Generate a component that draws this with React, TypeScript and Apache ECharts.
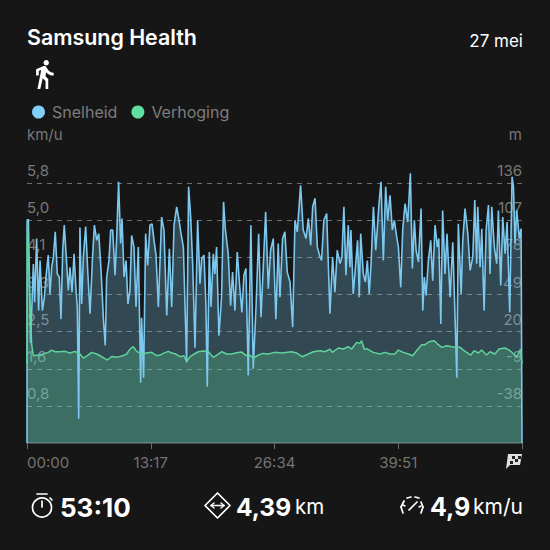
import React, { useEffect, useRef } from "react";
import * as echarts from "echarts";

const speedLabels = ["0,8", "1,6", "2,5", "3,3", "4,1", "5,0", "5,8"];
const elevationTicks = [-38, -9, 20, 49, 78, 107, 136];
const timeLabels = ["00:00", "13:17", "26:34", "39:51", ""];

const speedSeconds = [0,1,9,23,41,49,62,75,84,99,112,122,137,148,159,170,182,195,208,219,230,240,253,266,277,290,303,316,324,333,341,352,363,378,391,406,421,434,449,462,477,492,504,513,528,539,552,567,577,590,603,612,625,638,650,663,674,689,702,717,732,738,751,764,777,792,805,818,831,846,867,882,900,917,932,947,964,979,992,1007,1028,1041,1054,1067,1082,1099,1114,1125,1140,1152,1161,1174,1185,1200,1210,1221,1236,1253,1266,1277,1296,1311,1324,1339,1354,1371,1384,1397,1410,1425,1442,1457,1475,1492,1507,1522,1537,1554,1569,1586,1603,1618,1629,1646,1661,1676,1694,1711,1726,1741,1762,1779,1797,1812,1827,1840,1855,1870,1887,1897,1912,1930,1951,1968,1983,1998,2016,2028,2041,2054,2069,2080,2086,2101,2112,2129,2140,2149,2166,2179,2192,2204,2216,2231,2246,2257,2267,2280,2295,2310,2323,2338,2353,2366,2381,2392,2407,2420,2435,2452,2469,2482,2495,2506,2521,2538,2549,2559,2570,2585,2600,2613,2628,2643,2652,2665,2677,2692,2705,2725,2742,2755,2768,2778,2796,2806,2821,2839,2854,2871,2884,2896,2903,2918,2929,2944,2957,2972,2982,2993,3010,3025,3036,3051,3064,3079,3092,3109,3124,3133,3143,3154,3171,3182,3188];
const speedKmh = [0,4.98,5.0,2.24,4.0,3.15,4.57,2.96,4.08,2.96,3.26,3.71,4.2,3.33,3.93,4.16,4.72,3.78,3.71,2.77,4.31,4.87,4.16,3.41,3.93,3.37,4.23,3.41,3.04,0.54,4.82,3.11,4.16,4.84,3.86,2.89,4.08,4.87,4.53,4.68,3.86,2.77,2.18,3.71,4.08,4.76,4.76,3.75,4.53,5.84,4.46,5.02,3.71,4.08,3.11,3.41,4.64,4.38,3.04,4.38,1.35,2.8,1.46,4.68,3.97,4.87,4.9,4.53,4.2,3.04,5.05,4.76,2.85,4.34,3.04,4.87,5.28,4.98,4.68,4.38,1.8,5.73,5.05,4.0,2.13,4.98,3.56,4.12,4.2,3.11,1.26,4.27,3.04,4.23,3.78,4.38,2.4,3.26,5.39,4.79,4.23,3.07,3.82,2.96,4.27,3.45,2.92,3.75,3.9,1.51,4.87,1.66,3.04,4.68,2.81,3.97,5.17,3.45,4.31,4.57,2.77,4.46,3.26,4.57,4.72,3.82,3.6,2.59,4.98,4.72,5.76,4.76,4.57,5.02,4.42,5.28,5.47,4.38,4.16,4.08,4.98,5.13,2.89,4.16,3.37,4.31,4.01,4.16,5.28,3.75,4.87,3.93,4.76,3.33,3.78,4.53,3.26,4.68,3.78,3.6,4.08,3.33,4.01,5.28,4.31,4.83,5.35,5.84,4.08,5.73,4.98,5.54,4.76,4.98,4.61,4.38,3.48,4.79,5.35,4.94,6.03,3.9,4.98,4.31,4.05,5.24,2.96,3.71,3.3,4.08,4.53,3.63,4.87,4.38,4.57,2.66,5.2,3.78,4.68,3.26,4.49,3.04,1.46,4.9,3.33,4.49,5.24,4.68,3.86,4.16,5.43,4.01,5.28,3.93,4.79,2.96,4.76,5.32,3.78,5.28,4.38,4.01,5.2,3.52,5.05,4.23,4.94,2.92,5.95,5.73,4.46,5.2,4.57,4.79,0];

const elevationSeconds = [0,3,7,20,30,41,73,105,137,159,180,212,245,277,309,341,363,389,416,449,481,517,545,577,610,642,663,685,706,738,771,803,835,857,878,910,932,960,985,1011,1028,1050,1076,1103,1136,1168,1200,1232,1254,1286,1318,1350,1383,1410,1425,1458,1490,1522,1554,1597,1640,1704,1737,1773,1812,1844,1887,1919,1951,1966,2005,2037,2069,2091,2123,2144,2155,2172,2194,2230,2273,2305,2338,2370,2391,2424,2456,2484,2509,2542,2563,2589,2623,2649,2671,2703,2735,2767,2789,2821,2859,2879,2907,2928,2960,2982,3014,3040,3078,3111,3154,3179,3188];
const elevationMeters = [-5,105,105,40,10,1.2,1.7,2.5,3.8,5.6,4.3,4.3,4.6,3.3,4.6,2.5,-0.7,1.2,3.8,2.5,0.4,-2.2,0.6,-0.1,0.9,2.5,6.4,8.2,4.6,2.5,3.3,3.8,1.2,1.7,3,4.6,3.3,2.5,0.4,1.2,-3.3,0.4,2.5,4.3,4.8,4.3,-0.1,2.5,4.3,2.5,2.5,3.5,4,1.2,2.5,-0.7,1.7,3,2.5,3.8,3.3,4.3,3.3,0.4,2.5,4.3,5.1,4.3,6.4,3.8,7.2,6.4,8.2,6.4,11.6,10.8,12.9,6.4,6.4,3.8,2.5,3.8,2.5,2.5,5.6,3.8,2.5,1.2,5.1,9.8,9.8,12.1,12.9,9.8,7.7,9,8.2,7.7,7.7,4.6,1.7,5.1,3.3,5.6,1.7,4.3,2.5,6.4,7.2,5.1,0.4,6.4,-5.4];

const BG = "#161616";
const FONT = "Inter";

echarts.graphic.registerShape(
  "walker",
  echarts.graphic.extendPath(
    "M13.5 5.5c1.1 0 2-.9 2-2s-.9-2-2-2-2 .9-2 2 .9 2 2 2zM9.8 8.9L7 23h2.1l1.8-8 2.1 2v6h2v-7.5l-2.1-2 .6-3C14.8 12 16.8 13 19 13v-2c-1.9 0-3.5-1-4.3-2.4l-1-1.6c-.4-.6-1-1-1.7-1-.3 0-.5.1-.8.1L6 8.3V13h2V9.6l1.8-.7",
    {}
  )
);

const txt = (x: number, y: number, text: string, size: number, weight: number, fill: string, align = "left") => ({
  type: "text",
  x,
  y,
  style: { text, fontFamily: FONT, fontSize: size, fontWeight: weight, fill, align, verticalAlign: "middle" },
});
const wline = (x1: number, y1: number, x2: number, y2: number, w = 1.7) => ({
  type: "line",
  shape: { x1, y1, x2, y2 },
  style: { stroke: "#fff", lineWidth: w, lineCap: "round" },
});

export default function App() {
  const ref = useRef<HTMLDivElement>(null);
  useEffect(() => {
    document.body.style.margin = "0";
    document.body.style.background = BG;
    const chart = echarts.init(ref.current!, undefined, { renderer: "svg" });
    chart.setOption({
      animation: false,
      backgroundColor: BG,
      textStyle: { fontFamily: FONT },
      grid: { left: 27, right: 28, top: 146, bottom: 107 },
      legend: {
        left: 27,
        top: 99,
        icon: "circle",
        itemWidth: 13,
        itemHeight: 13,
        itemGap: 14,
        selectedMode: false,
        textStyle: { color: "#7d7d7d", fontSize: 16, fontFamily: FONT, padding: [0, 0, 0, 2] },
        data: [
          { name: "Snelheid", itemStyle: { color: "#7fd0fb" } },
          { name: "Verhoging", itemStyle: { color: "#5fe0a0" } },
        ],
      },
      xAxis: {
        type: "value",
        min: 0,
        max: 3188,
        interval: 797,
        axisLine: { show: true, lineStyle: { color: "#5a5a5a", width: 1.5 } },
        axisTick: { show: true, length: 6, lineStyle: { color: "#6a6a6a" } },
        splitLine: { show: false },
        axisLabel: {
          color: "#737373",
          fontSize: 15,
          fontFamily: FONT,
          margin: 12,
          alignMinLabel: "left",
          formatter: (v: number) => timeLabels[Math.round(v / 797)],
        },
      },
      yAxis: [
        {
          type: "value",
          min: 0,
          max: 6.64,
          interval: 0.83,
          name: "km/u",
          nameLocation: "end",
          nameGap: 4,
          nameTextStyle: { color: "#787878", fontSize: 15, align: "left", fontFamily: FONT },
          axisLine: { show: false },
          axisTick: { show: false },
          splitLine: {
            show: true,
            showMinLine: false,
            showMaxLine: false,
            lineStyle: { color: "#6e6e6e", type: [5, 5], width: 1 },
          },
          axisLabel: {
            inside: true,
            margin: 0,
            color: "#7a7a7a",
            fontSize: 15,
            fontFamily: FONT,
            verticalAlign: "bottom",
            padding: [0, 0, 5, 0],
            showMinLabel: false,
            showMaxLabel: false,
            formatter: (v: number) => speedLabels[Math.round(v / 0.83) - 1] ?? "",
          },
        },
        {
          type: "value",
          min: -67,
          max: 165,
          position: "right",
          name: "m",
          nameLocation: "end",
          nameGap: 4,
          nameTextStyle: { color: "#787878", fontSize: 15, align: "right", fontFamily: FONT },
          axisLine: { show: false },
          axisTick: { show: false },
          splitLine: { show: false },
          axisLabel: {
            inside: true,
            margin: 0,
            color: "#7a7a7a",
            fontSize: 15,
            fontFamily: FONT,
            verticalAlign: "bottom",
            padding: [0, 0, 5, 0],
            customValues: elevationTicks,
          },
        },
      ],
      series: [
        {
          name: "Snelheid",
          type: "line",
          yAxisIndex: 0,
          showSymbol: false,
          lineStyle: { color: "#7cc8ee", width: 1.6 },
          itemStyle: { color: "#7fd0fb" },
          areaStyle: { color: "rgba(125,205,245,0.28)", opacity: 1 },
          data: speedSeconds.map((s, i) => [s, speedKmh[i]]),
        },
        {
          name: "Verhoging",
          type: "line",
          yAxisIndex: 1,
          showSymbol: false,
          lineStyle: { color: "#5fd39a", width: 1.5 },
          itemStyle: { color: "#5fe0a0" },
          areaStyle: { color: "rgba(95,225,150,0.25)", origin: "start", opacity: 1 },
          data: elevationSeconds.map((s, i) => [s, elevationMeters[i]]),
        },
      ],
      graphic: [
        txt(27, 37, "Samsung Health", 21.4, 600, "#ffffff"),
        txt(523, 41, "27 mei", 17, 400, "#ffffff", "right"),
        { type: "walker", x: 28, y: 58, scaleX: 1.35, scaleY: 1.35, style: { fill: "#ffffff" } },
        // checkered flag
        { type: "polygon", shape: { points: [[508, 454], [522, 454], [520, 465], [510, 465], [506, 469]] }, style: { fill: "#e0e0e0" } },
        { type: "rect", shape: { x: 512, y: 456, width: 3, height: 3 }, style: { fill: "#222" } },
        { type: "rect", shape: { x: 518, y: 456, width: 3, height: 3 }, style: { fill: "#222" } },
        { type: "rect", shape: { x: 515, y: 459, width: 3, height: 3 }, style: { fill: "#222" } },
        { type: "rect", shape: { x: 510, y: 461, width: 3, height: 3 }, style: { fill: "#222" } },
        // stopwatch
        { type: "circle", shape: { cx: 42, cy: 507.5, r: 9.5 }, style: { stroke: "#fff", fill: "none", lineWidth: 1.7 } },
        wline(37, 494, 47, 494),
        wline(42, 507, 42, 501),
        wline(50, 498, 52, 500),
        txt(60, 507, "53:10", 26, 700, "#ffffff"),
        // distance
        {
          type: "polygon",
          shape: { points: [[217.5, 493], [230, 505.5], [217.5, 518], [205, 505.5]] },
          style: { stroke: "#fff", fill: "none", lineWidth: 1.7, lineJoin: "round" },
        },
        wline(211, 505.5, 224, 505.5, 1.4),
        wline(211, 505.5, 214, 503, 1.4),
        wline(211, 505.5, 214, 508, 1.4),
        wline(224, 505.5, 221, 503, 1.4),
        wline(224, 505.5, 221, 508, 1.4),
        txt(236, 507, "4,39", 24.5, 700, "#ffffff"),
        txt(295, 506, "km", 20.5, 400, "#ffffff"),
        // gauge
        wline(403, 513, 401, 507),
        wline(401, 507, 404, 501),
        wline(407, 498, 411, 497),
        wline(415, 497, 419, 498),
        wline(421, 502, 423, 507),
        wline(423, 507, 421, 513),
        wline(409, 510, 417, 502),
        wline(403, 505, 405, 506, 1.4),
        wline(421, 506, 419, 507, 1.4),
        txt(430, 507, "4,9", 25, 700, "#ffffff"),
        txt(523, 506, "km/u", 21, 400, "#ffffff", "right"),
      ],
    });
    return () => chart.dispose();
  }, []);
  return <div ref={ref} style={{ width: 550, height: 550 }} />;
}
